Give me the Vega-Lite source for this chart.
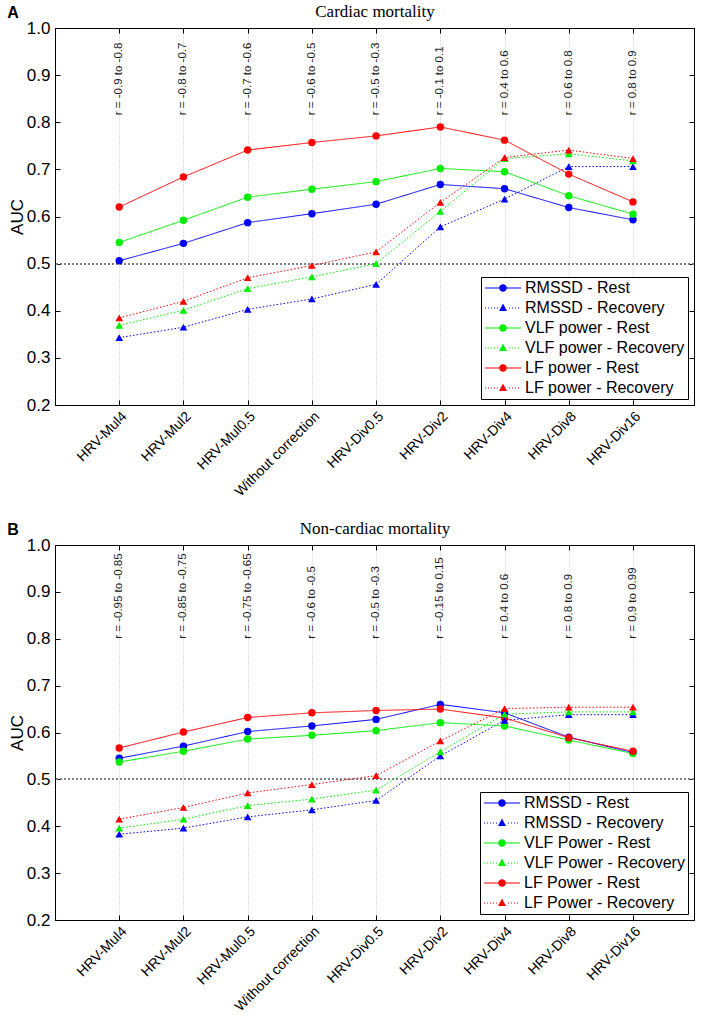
{
  "$schema": "https://vega.github.io/schema/vega-lite/v6.json",
  "padding": {"left": 6, "top": 2, "right": 4, "bottom": 2},
  "spacing": 19,
  "config": {
    "font": "Liberation Sans",
    "view": {"stroke": "black", "strokeWidth": 1},
    "axis": {"labelColor": "black", "titleColor": "black", "domainColor": "black", "tickColor": "black"},
    "legend": {"orient": "bottom-right", "offset": 6, "labelFont": "Liberation Sans", "labelFontSize": 16, "labelColor": "black", "labelLimit": 0, "symbolSize": 64, "symbolOffset": 11, "labelOffset": 14, "strokeColor": "black", "fillColor": "white", "padding": 3, "rowPadding": 4, "symbolOpacity": 1, "symbolStrokeWidth": 0}
  },
  "resolve": {"scale": {"color": "independent", "shape": "independent", "strokeDash": "independent", "stroke": "independent", "fill": "independent", "x": "independent", "y": "independent"}},
  "datasets": {
    "a": [
      {"series": "RMSSD - Rest", "kind": "Rest", "i": 1, "auc": 0.506}, {"series": "RMSSD - Rest", "kind": "Rest", "i": 2, "auc": 0.543}, {"series": "RMSSD - Rest", "kind": "Rest", "i": 3, "auc": 0.587}, {"series": "RMSSD - Rest", "kind": "Rest", "i": 4, "auc": 0.606}, {"series": "RMSSD - Rest", "kind": "Rest", "i": 5, "auc": 0.626}, {"series": "RMSSD - Rest", "kind": "Rest", "i": 6, "auc": 0.668}, {"series": "RMSSD - Rest", "kind": "Rest", "i": 7, "auc": 0.659}, {"series": "RMSSD - Rest", "kind": "Rest", "i": 8, "auc": 0.619}, {"series": "RMSSD - Rest", "kind": "Rest", "i": 9, "auc": 0.593},
      {"series": "RMSSD - Recovery", "kind": "Recovery", "i": 1, "auc": 0.343}, {"series": "RMSSD - Recovery", "kind": "Recovery", "i": 2, "auc": 0.365}, {"series": "RMSSD - Recovery", "kind": "Recovery", "i": 3, "auc": 0.403}, {"series": "RMSSD - Recovery", "kind": "Recovery", "i": 4, "auc": 0.425}, {"series": "RMSSD - Recovery", "kind": "Recovery", "i": 5, "auc": 0.456}, {"series": "RMSSD - Recovery", "kind": "Recovery", "i": 6, "auc": 0.578}, {"series": "RMSSD - Recovery", "kind": "Recovery", "i": 7, "auc": 0.637}, {"series": "RMSSD - Recovery", "kind": "Recovery", "i": 8, "auc": 0.706}, {"series": "RMSSD - Recovery", "kind": "Recovery", "i": 9, "auc": 0.706},
      {"series": "VLF power - Rest", "kind": "Rest", "i": 1, "auc": 0.545}, {"series": "VLF power - Rest", "kind": "Rest", "i": 2, "auc": 0.592}, {"series": "VLF power - Rest", "kind": "Rest", "i": 3, "auc": 0.641}, {"series": "VLF power - Rest", "kind": "Rest", "i": 4, "auc": 0.658}, {"series": "VLF power - Rest", "kind": "Rest", "i": 5, "auc": 0.674}, {"series": "VLF power - Rest", "kind": "Rest", "i": 6, "auc": 0.702}, {"series": "VLF power - Rest", "kind": "Rest", "i": 7, "auc": 0.695}, {"series": "VLF power - Rest", "kind": "Rest", "i": 8, "auc": 0.644}, {"series": "VLF power - Rest", "kind": "Rest", "i": 9, "auc": 0.605},
      {"series": "VLF power - Recovery", "kind": "Recovery", "i": 1, "auc": 0.369}, {"series": "VLF power - Recovery", "kind": "Recovery", "i": 2, "auc": 0.401}, {"series": "VLF power - Recovery", "kind": "Recovery", "i": 3, "auc": 0.447}, {"series": "VLF power - Recovery", "kind": "Recovery", "i": 4, "auc": 0.472}, {"series": "VLF power - Recovery", "kind": "Recovery", "i": 5, "auc": 0.500}, {"series": "VLF power - Recovery", "kind": "Recovery", "i": 6, "auc": 0.611}, {"series": "VLF power - Recovery", "kind": "Recovery", "i": 7, "auc": 0.723}, {"series": "VLF power - Recovery", "kind": "Recovery", "i": 8, "auc": 0.733}, {"series": "VLF power - Recovery", "kind": "Recovery", "i": 9, "auc": 0.718},
      {"series": "LF power - Rest", "kind": "Rest", "i": 1, "auc": 0.620}, {"series": "LF power - Rest", "kind": "Rest", "i": 2, "auc": 0.684}, {"series": "LF power - Rest", "kind": "Rest", "i": 3, "auc": 0.741}, {"series": "LF power - Rest", "kind": "Rest", "i": 4, "auc": 0.757}, {"series": "LF power - Rest", "kind": "Rest", "i": 5, "auc": 0.771}, {"series": "LF power - Rest", "kind": "Rest", "i": 6, "auc": 0.790}, {"series": "LF power - Rest", "kind": "Rest", "i": 7, "auc": 0.762}, {"series": "LF power - Rest", "kind": "Rest", "i": 8, "auc": 0.690}, {"series": "LF power - Rest", "kind": "Rest", "i": 9, "auc": 0.631},
      {"series": "LF power - Recovery", "kind": "Recovery", "i": 1, "auc": 0.385}, {"series": "LF power - Recovery", "kind": "Recovery", "i": 2, "auc": 0.420}, {"series": "LF power - Recovery", "kind": "Recovery", "i": 3, "auc": 0.470}, {"series": "LF power - Recovery", "kind": "Recovery", "i": 4, "auc": 0.496}, {"series": "LF power - Recovery", "kind": "Recovery", "i": 5, "auc": 0.525}, {"series": "LF power - Recovery", "kind": "Recovery", "i": 6, "auc": 0.630}, {"series": "LF power - Recovery", "kind": "Recovery", "i": 7, "auc": 0.725}, {"series": "LF power - Recovery", "kind": "Recovery", "i": 8, "auc": 0.741}, {"series": "LF power - Recovery", "kind": "Recovery", "i": 9, "auc": 0.723}
    ],
    "b": [
      {"series": "RMSSD - Rest", "kind": "Rest", "i": 1, "auc": 0.545}, {"series": "RMSSD - Rest", "kind": "Rest", "i": 2, "auc": 0.571}, {"series": "RMSSD - Rest", "kind": "Rest", "i": 3, "auc": 0.602}, {"series": "RMSSD - Rest", "kind": "Rest", "i": 4, "auc": 0.614}, {"series": "RMSSD - Rest", "kind": "Rest", "i": 5, "auc": 0.628}, {"series": "RMSSD - Rest", "kind": "Rest", "i": 6, "auc": 0.660}, {"series": "RMSSD - Rest", "kind": "Rest", "i": 7, "auc": 0.642}, {"series": "RMSSD - Rest", "kind": "Rest", "i": 8, "auc": 0.590}, {"series": "RMSSD - Rest", "kind": "Rest", "i": 9, "auc": 0.557},
      {"series": "RMSSD - Recovery", "kind": "Recovery", "i": 1, "auc": 0.383}, {"series": "RMSSD - Recovery", "kind": "Recovery", "i": 2, "auc": 0.396}, {"series": "RMSSD - Recovery", "kind": "Recovery", "i": 3, "auc": 0.420}, {"series": "RMSSD - Recovery", "kind": "Recovery", "i": 4, "auc": 0.435}, {"series": "RMSSD - Recovery", "kind": "Recovery", "i": 5, "auc": 0.455}, {"series": "RMSSD - Recovery", "kind": "Recovery", "i": 6, "auc": 0.550}, {"series": "RMSSD - Recovery", "kind": "Recovery", "i": 7, "auc": 0.626}, {"series": "RMSSD - Recovery", "kind": "Recovery", "i": 8, "auc": 0.638}, {"series": "RMSSD - Recovery", "kind": "Recovery", "i": 9, "auc": 0.638},
      {"series": "VLF Power - Rest", "kind": "Rest", "i": 1, "auc": 0.537}, {"series": "VLF Power - Rest", "kind": "Rest", "i": 2, "auc": 0.560}, {"series": "VLF Power - Rest", "kind": "Rest", "i": 3, "auc": 0.586}, {"series": "VLF Power - Rest", "kind": "Rest", "i": 4, "auc": 0.594}, {"series": "VLF Power - Rest", "kind": "Rest", "i": 5, "auc": 0.604}, {"series": "VLF Power - Rest", "kind": "Rest", "i": 6, "auc": 0.621}, {"series": "VLF Power - Rest", "kind": "Rest", "i": 7, "auc": 0.614}, {"series": "VLF Power - Rest", "kind": "Rest", "i": 8, "auc": 0.584}, {"series": "VLF Power - Rest", "kind": "Rest", "i": 9, "auc": 0.555},
      {"series": "VLF Power - Recovery", "kind": "Recovery", "i": 1, "auc": 0.396}, {"series": "VLF Power - Recovery", "kind": "Recovery", "i": 2, "auc": 0.415}, {"series": "VLF Power - Recovery", "kind": "Recovery", "i": 3, "auc": 0.444}, {"series": "VLF Power - Recovery", "kind": "Recovery", "i": 4, "auc": 0.458}, {"series": "VLF Power - Recovery", "kind": "Recovery", "i": 5, "auc": 0.477}, {"series": "VLF Power - Recovery", "kind": "Recovery", "i": 6, "auc": 0.559}, {"series": "VLF Power - Recovery", "kind": "Recovery", "i": 7, "auc": 0.639}, {"series": "VLF Power - Recovery", "kind": "Recovery", "i": 8, "auc": 0.644}, {"series": "VLF Power - Recovery", "kind": "Recovery", "i": 9, "auc": 0.644},
      {"series": "LF Power - Rest", "kind": "Rest", "i": 1, "auc": 0.567}, {"series": "LF Power - Rest", "kind": "Rest", "i": 2, "auc": 0.601}, {"series": "LF Power - Rest", "kind": "Rest", "i": 3, "auc": 0.632}, {"series": "LF Power - Rest", "kind": "Rest", "i": 4, "auc": 0.642}, {"series": "LF Power - Rest", "kind": "Rest", "i": 5, "auc": 0.647}, {"series": "LF Power - Rest", "kind": "Rest", "i": 6, "auc": 0.650}, {"series": "LF Power - Rest", "kind": "Rest", "i": 7, "auc": 0.631}, {"series": "LF Power - Rest", "kind": "Rest", "i": 8, "auc": 0.589}, {"series": "LF Power - Rest", "kind": "Rest", "i": 9, "auc": 0.560},
      {"series": "LF Power - Recovery", "kind": "Recovery", "i": 1, "auc": 0.415}, {"series": "LF Power - Recovery", "kind": "Recovery", "i": 2, "auc": 0.440}, {"series": "LF Power - Recovery", "kind": "Recovery", "i": 3, "auc": 0.471}, {"series": "LF Power - Recovery", "kind": "Recovery", "i": 4, "auc": 0.489}, {"series": "LF Power - Recovery", "kind": "Recovery", "i": 5, "auc": 0.508}, {"series": "LF Power - Recovery", "kind": "Recovery", "i": 6, "auc": 0.582}, {"series": "LF Power - Recovery", "kind": "Recovery", "i": 7, "auc": 0.651}, {"series": "LF Power - Recovery", "kind": "Recovery", "i": 8, "auc": 0.654}, {"series": "LF Power - Recovery", "kind": "Recovery", "i": 9, "auc": 0.654}
    ]
  },
  "vconcat": [
    {
      "width": 639, "height": 377,
      "title": {"text": "A", "anchor": "start", "frame": "bounds", "font": "Liberation Sans", "fontSize": 16, "fontWeight": "bold", "color": "black", "offset": -18, "dx": -1},
      "data": {"name": "a"},
      "resolve": {"axis": {"x": "independent", "y": "independent"}},
      "layer": [
        {
          "mark": {"type": "rule", "color": "#808080", "strokeDash": [2, 2], "strokeWidth": 1},
          "encoding": {"y": {"datum": 0.5, "type": "quantitative", "axis": null}}
        },
        {
          "mark": {"type": "line", "strokeWidth": 1},
          "encoding": {
            "x": {"field": "i", "type": "quantitative", "scale": {"domain": [0, 9.95], "nice": false, "zero": false},
              "axis": {"orient": "bottom", "values": [1, 2, 3, 4, 5, 6, 7, 8, 9], "title": null, "grid": true, "gridColor": "#c4c4c4", "gridDash": [1, 2], "tickSize": -5, "labelPadding": 9, "labelAngle": -45, "labelAlign": "right", "labelBaseline": "top", "labelFontSize": 14, "labelFont": "Liberation Sans", "labelOverlap": false, "labelBound": false,
                "labelExpr": "['HRV-Mul4','HRV-Mul2','HRV-Mul0.5','Without correction','HRV-Div0.5','HRV-Div2','HRV-Div4','HRV-Div8','HRV-Div16'][datum.value - 1]"}},
            "y": {"field": "auc", "type": "quantitative", "scale": {"domain": [0.2, 1.0], "nice": false, "zero": false},
              "axis": {"orient": "left", "values": [0.2, 0.3, 0.4, 0.5, 0.6, 0.7, 0.8, 0.9, 1.0], "format": ".1f", "grid": false, "tickSize": -5, "labelPadding": 10, "labelFontSize": 17, "title": "AUC", "titleFontSize": 17, "titleFontWeight": "normal", "titlePadding": 0}},
            "stroke": {"field": "series", "type": "nominal", "legend": null,
              "scale": {"range": ["#ff0000", "#ff0000", "#0000ff", "#0000ff", "#00ee00", "#00ee00"]}},
            "strokeDash": {"field": "kind", "type": "nominal", "legend": null, "scale": {"domain": ["Rest", "Recovery"], "range": [[1, 0], [1.5, 2]]}},
            "detail": {"field": "series"}
          }
        },
        {
          "transform": [{"filter": "datum.kind == 'Rest'"}],
          "mark": {"type": "point", "filled": true, "shape": "circle", "size": 55, "opacity": 1},
          "encoding": {
            "x": {"field": "i", "type": "quantitative", "axis": null},
            "y": {"field": "auc", "type": "quantitative", "axis": null},
            "fill": {"field": "series", "type": "nominal", "legend": null,
              "scale": {"range": ["#ff0000", "#ff0000", "#0000ff", "#0000ff", "#00ee00", "#00ee00"]}}
          }
        },
        {
          "transform": [{"filter": "datum.kind == 'Recovery'"}],
          "mark": {"type": "point", "filled": true, "shape": "triangle-up", "size": 60, "opacity": 1},
          "encoding": {
            "x": {"field": "i", "type": "quantitative", "axis": null},
            "y": {"field": "auc", "type": "quantitative", "axis": null},
            "fill": {"field": "series", "type": "nominal", "legend": null}
          }
        },
        {
          "mark": {"type": "point", "filled": true, "opacity": 0},
          "encoding": {
            "x": {"field": "i", "type": "quantitative", "axis": null},
            "y": {"field": "auc", "type": "quantitative", "axis": null},
            "color": {"field": "series", "type": "nominal", "title": null,
              "scale": {"domain": ["RMSSD - Rest", "RMSSD - Recovery", "VLF power - Rest", "VLF power - Recovery", "LF power - Rest", "LF power - Recovery"], "range": ["#0000ff", "#0000ff", "#00ee00", "#00ee00", "#ff0000", "#ff0000"]}},
            "shape": {"field": "series", "type": "nominal", "title": null,
              "scale": {"domain": ["RMSSD - Rest", "RMSSD - Recovery", "VLF power - Rest", "VLF power - Recovery", "LF power - Rest", "LF power - Recovery"],
                "range": [
                  "M-4.5,-0.14H4.5V0.14H-4.5Z M0.95,0A0.95,0.95,0,1,1,-0.95,0A0.95,0.95,0,1,1,0.95,0Z",
                  "M-4.5,-0.13h0.25v0.26h-0.25Z M-3.75,-0.13h0.25v0.26h-0.25Z M-3,-0.13h0.25v0.26h-0.25Z M-2.25,-0.13h0.25v0.26h-0.25Z M-1.5,-0.13h0.25v0.26h-0.25Z M1.5,-0.13h0.25v0.26h-0.25Z M2.25,-0.13h0.25v0.26h-0.25Z M3,-0.13h0.25v0.26h-0.25Z M3.75,-0.13h0.25v0.26h-0.25Z M0,-1.1L1,0.75H-1Z",
                  "M-4.5,-0.14H4.5V0.14H-4.5Z M0.95,0A0.95,0.95,0,1,1,-0.95,0A0.95,0.95,0,1,1,0.95,0Z",
                  "M-4.5,-0.13h0.25v0.26h-0.25Z M-3.75,-0.13h0.25v0.26h-0.25Z M-3,-0.13h0.25v0.26h-0.25Z M-2.25,-0.13h0.25v0.26h-0.25Z M-1.5,-0.13h0.25v0.26h-0.25Z M1.5,-0.13h0.25v0.26h-0.25Z M2.25,-0.13h0.25v0.26h-0.25Z M3,-0.13h0.25v0.26h-0.25Z M3.75,-0.13h0.25v0.26h-0.25Z M0,-1.1L1,0.75H-1Z",
                  "M-4.5,-0.14H4.5V0.14H-4.5Z M0.95,0A0.95,0.95,0,1,1,-0.95,0A0.95,0.95,0,1,1,0.95,0Z",
                  "M-4.5,-0.13h0.25v0.26h-0.25Z M-3.75,-0.13h0.25v0.26h-0.25Z M-3,-0.13h0.25v0.26h-0.25Z M-2.25,-0.13h0.25v0.26h-0.25Z M-1.5,-0.13h0.25v0.26h-0.25Z M1.5,-0.13h0.25v0.26h-0.25Z M2.25,-0.13h0.25v0.26h-0.25Z M3,-0.13h0.25v0.26h-0.25Z M3.75,-0.13h0.25v0.26h-0.25Z M0,-1.1L1,0.75H-1Z"
                ]}}
          }
        },
        {
          "data": {"values": [
            {"i": 1, "label": "r = -0.9 to -0.8"}, {"i": 2, "label": "r = -0.8 to -0.7"}, {"i": 3, "label": "r = -0.7 to -0.6"},
            {"i": 4, "label": "r = -0.6 to -0.5"}, {"i": 5, "label": "r = -0.5 to -0.3"}, {"i": 6, "label": "r = -0.1 to 0.1"},
            {"i": 7, "label": "r = 0.4 to 0.6"}, {"i": 8, "label": "r = 0.6 to 0.8"}, {"i": 9, "label": "r = 0.8 to 0.9"}
          ]},
          "mark": {"type": "text", "angle": 270, "align": "left", "baseline": "middle", "fontSize": 11.5, "font": "Liberation Sans", "color": "#1a1a1a"},
          "encoding": {
            "x": {"field": "i", "type": "quantitative",
              "axis": {"orient": "top", "values": [1, 2, 3, 4, 5, 6, 7, 8, 9], "labels": false, "grid": false, "tickSize": -5, "title": "Cardiac mortality", "titleFont": "Liberation Serif", "titleFontSize": 17, "titleFontWeight": "normal", "titlePadding": 7}},
            "y": {"datum": 0.815, "type": "quantitative",
              "axis": {"orient": "right", "values": [0.2, 0.3, 0.4, 0.5, 0.6, 0.7, 0.8, 0.9, 1.0], "labels": false, "grid": false, "tickSize": -5, "title": null}},
            "text": {"field": "label"}
          }
        }
      ]
    },
    {
      "width": 639, "height": 375,
      "title": {"text": "B", "anchor": "start", "frame": "bounds", "font": "Liberation Sans", "fontSize": 16, "fontWeight": "bold", "color": "black", "offset": -18, "dx": -1},
      "data": {"name": "b"},
      "resolve": {"axis": {"x": "independent", "y": "independent"}},
      "layer": [
        {
          "mark": {"type": "rule", "color": "#808080", "strokeDash": [2, 2], "strokeWidth": 1},
          "encoding": {"y": {"datum": 0.5, "type": "quantitative", "axis": null}}
        },
        {
          "mark": {"type": "line", "strokeWidth": 1},
          "encoding": {
            "x": {"field": "i", "type": "quantitative", "scale": {"domain": [0, 9.95], "nice": false, "zero": false},
              "axis": {"orient": "bottom", "values": [1, 2, 3, 4, 5, 6, 7, 8, 9], "title": null, "grid": true, "gridColor": "#c4c4c4", "gridDash": [1, 2], "tickSize": -5, "labelPadding": 9, "labelAngle": -45, "labelAlign": "right", "labelBaseline": "top", "labelFontSize": 14, "labelFont": "Liberation Sans", "labelOverlap": false, "labelBound": false,
                "labelExpr": "['HRV-Mul4','HRV-Mul2','HRV-Mul0.5','Without correction','HRV-Div0.5','HRV-Div2','HRV-Div4','HRV-Div8','HRV-Div16'][datum.value - 1]"}},
            "y": {"field": "auc", "type": "quantitative", "scale": {"domain": [0.2, 1.0], "nice": false, "zero": false},
              "axis": {"orient": "left", "values": [0.2, 0.3, 0.4, 0.5, 0.6, 0.7, 0.8, 0.9, 1.0], "format": ".1f", "grid": false, "tickSize": -5, "labelPadding": 10, "labelFontSize": 17, "title": "AUC", "titleFontSize": 17, "titleFontWeight": "normal", "titlePadding": 0}},
            "stroke": {"field": "series", "type": "nominal", "legend": null,
              "scale": {"range": ["#ff0000", "#ff0000", "#0000ff", "#0000ff", "#00ee00", "#00ee00"]}},
            "strokeDash": {"field": "kind", "type": "nominal", "legend": null, "scale": {"domain": ["Rest", "Recovery"], "range": [[1, 0], [1.5, 2]]}},
            "detail": {"field": "series"}
          }
        },
        {
          "transform": [{"filter": "datum.kind == 'Rest'"}],
          "mark": {"type": "point", "filled": true, "shape": "circle", "size": 55, "opacity": 1},
          "encoding": {
            "x": {"field": "i", "type": "quantitative", "axis": null},
            "y": {"field": "auc", "type": "quantitative", "axis": null},
            "fill": {"field": "series", "type": "nominal", "legend": null,
              "scale": {"range": ["#ff0000", "#ff0000", "#0000ff", "#0000ff", "#00ee00", "#00ee00"]}}
          }
        },
        {
          "transform": [{"filter": "datum.kind == 'Recovery'"}],
          "mark": {"type": "point", "filled": true, "shape": "triangle-up", "size": 60, "opacity": 1},
          "encoding": {
            "x": {"field": "i", "type": "quantitative", "axis": null},
            "y": {"field": "auc", "type": "quantitative", "axis": null},
            "fill": {"field": "series", "type": "nominal", "legend": null}
          }
        },
        {
          "mark": {"type": "point", "filled": true, "opacity": 0},
          "encoding": {
            "x": {"field": "i", "type": "quantitative", "axis": null},
            "y": {"field": "auc", "type": "quantitative", "axis": null},
            "color": {"field": "series", "type": "nominal", "title": null,
              "scale": {"domain": ["RMSSD - Rest", "RMSSD - Recovery", "VLF Power - Rest", "VLF Power - Recovery", "LF Power - Rest", "LF Power - Recovery"], "range": ["#0000ff", "#0000ff", "#00ee00", "#00ee00", "#ff0000", "#ff0000"]}},
            "shape": {"field": "series", "type": "nominal", "title": null,
              "scale": {"domain": ["RMSSD - Rest", "RMSSD - Recovery", "VLF Power - Rest", "VLF Power - Recovery", "LF Power - Rest", "LF Power - Recovery"],
                "range": [
                  "M-4.5,-0.14H4.5V0.14H-4.5Z M0.95,0A0.95,0.95,0,1,1,-0.95,0A0.95,0.95,0,1,1,0.95,0Z",
                  "M-4.5,-0.13h0.25v0.26h-0.25Z M-3.75,-0.13h0.25v0.26h-0.25Z M-3,-0.13h0.25v0.26h-0.25Z M-2.25,-0.13h0.25v0.26h-0.25Z M-1.5,-0.13h0.25v0.26h-0.25Z M1.5,-0.13h0.25v0.26h-0.25Z M2.25,-0.13h0.25v0.26h-0.25Z M3,-0.13h0.25v0.26h-0.25Z M3.75,-0.13h0.25v0.26h-0.25Z M0,-1.1L1,0.75H-1Z",
                  "M-4.5,-0.14H4.5V0.14H-4.5Z M0.95,0A0.95,0.95,0,1,1,-0.95,0A0.95,0.95,0,1,1,0.95,0Z",
                  "M-4.5,-0.13h0.25v0.26h-0.25Z M-3.75,-0.13h0.25v0.26h-0.25Z M-3,-0.13h0.25v0.26h-0.25Z M-2.25,-0.13h0.25v0.26h-0.25Z M-1.5,-0.13h0.25v0.26h-0.25Z M1.5,-0.13h0.25v0.26h-0.25Z M2.25,-0.13h0.25v0.26h-0.25Z M3,-0.13h0.25v0.26h-0.25Z M3.75,-0.13h0.25v0.26h-0.25Z M0,-1.1L1,0.75H-1Z",
                  "M-4.5,-0.14H4.5V0.14H-4.5Z M0.95,0A0.95,0.95,0,1,1,-0.95,0A0.95,0.95,0,1,1,0.95,0Z",
                  "M-4.5,-0.13h0.25v0.26h-0.25Z M-3.75,-0.13h0.25v0.26h-0.25Z M-3,-0.13h0.25v0.26h-0.25Z M-2.25,-0.13h0.25v0.26h-0.25Z M-1.5,-0.13h0.25v0.26h-0.25Z M1.5,-0.13h0.25v0.26h-0.25Z M2.25,-0.13h0.25v0.26h-0.25Z M3,-0.13h0.25v0.26h-0.25Z M3.75,-0.13h0.25v0.26h-0.25Z M0,-1.1L1,0.75H-1Z"
                ]}}
          }
        },
        {
          "data": {"values": [
            {"i": 1, "label": "r = -0.95 to -0.85"}, {"i": 2, "label": "r = -0.85 to -0.75"}, {"i": 3, "label": "r = -0.75 to -0.65"},
            {"i": 4, "label": "r = -0.6 to -0.5"}, {"i": 5, "label": "r = -0.5 to -0.3"}, {"i": 6, "label": "r = -0.15 to 0.15"},
            {"i": 7, "label": "r = 0.4 to 0.6"}, {"i": 8, "label": "r = 0.8 to 0.9"}, {"i": 9, "label": "r = 0.9 to 0.99"}
          ]},
          "mark": {"type": "text", "angle": 270, "align": "left", "baseline": "middle", "fontSize": 11.5, "font": "Liberation Sans", "color": "#1a1a1a"},
          "encoding": {
            "x": {"field": "i", "type": "quantitative",
              "axis": {"orient": "top", "values": [1, 2, 3, 4, 5, 6, 7, 8, 9], "labels": false, "grid": false, "tickSize": -5, "title": "Non-cardiac mortality", "titleFont": "Liberation Serif", "titleFontSize": 17, "titleFontWeight": "normal", "titlePadding": 7}},
            "y": {"datum": 0.80, "type": "quantitative",
              "axis": {"orient": "right", "values": [0.2, 0.3, 0.4, 0.5, 0.6, 0.7, 0.8, 0.9, 1.0], "labels": false, "grid": false, "tickSize": -5, "title": null}},
            "text": {"field": "label"}
          }
        }
      ]
    }
  ]
}
